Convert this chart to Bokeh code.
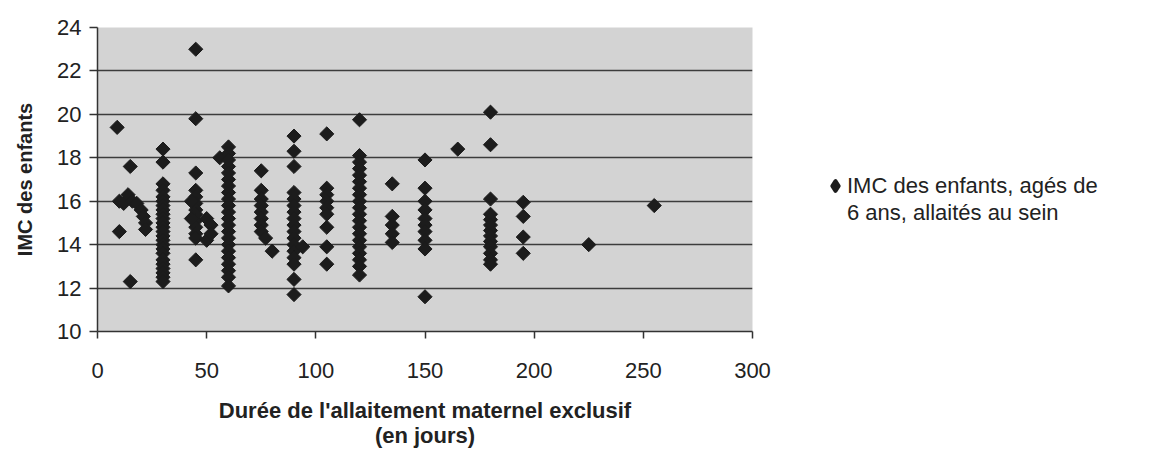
import numpy as np
from bokeh.plotting import figure
from bokeh.models import (Range1d, FixedTicker, Legend, LegendItem, ColumnDataSource,
                          CDSView, IndexFilter)
from bokeh.embed import file_html
from bokeh.resources import INLINE

# ---- data ----
duree = (
    [9, 15, 10, 12, 14, 16, 18, 20, 21, 22, 22, 10, 15]
    + [30] * 24
    + [45] * 13 + [43, 43, 50, 50, 52, 52]
    + [56] + [60] * 22
    + [75] * 8 + [77, 80]
    + [90] * 17 + [94]
    + [105] * 9
    + [120] * 20
    + [135] * 5
    + [150] * 10
    + [165]
    + [180] * 13
    + [195] * 4
    + [225, 255]
)
imc = (
    [19.4, 17.6, 16.0, 15.9, 16.3, 16.0, 15.9, 15.6, 15.3, 15.0, 14.7, 14.6, 12.3]
    + [18.4, 17.8, 16.8, 16.5, 16.2, 16.0, 15.8, 15.6, 15.4, 15.2, 15.0, 14.8,
       14.6, 14.4, 14.2, 14.0, 13.8, 13.6, 13.3, 13.1, 12.9, 12.7, 12.5, 12.3]
    + [23.0, 19.8, 17.3, 16.5, 16.2, 15.9, 15.6, 15.4, 15.1, 14.8, 14.5, 14.3, 13.3,
       16.0, 15.2, 15.2, 14.2, 14.9, 14.5]
    + [18.0]
    + [18.5, 18.2, 17.9, 17.6, 17.3, 17.0, 16.7, 16.4, 16.1, 15.8, 15.5, 15.2,
       14.9, 14.6, 14.3, 14.0, 13.7, 13.4, 13.1, 12.8, 12.5, 12.1]
    + [17.4, 16.5, 16.1, 15.8, 15.5, 15.2, 14.9, 14.6, 14.3, 13.7]
    + [19.0, 18.3, 17.6, 16.4, 16.1, 15.8, 15.5, 15.2, 14.9, 14.6, 14.3, 14.0,
       13.7, 13.4, 13.1, 12.4, 11.7, 13.9]
    + [19.1, 16.6, 16.3, 16.0, 15.7, 15.4, 14.8, 13.9, 13.1]
    + [19.75, 18.1, 17.8, 17.5, 17.2, 16.9, 16.6, 16.3, 16.0, 15.7, 15.4, 15.1,
       14.8, 14.5, 14.2, 13.9, 13.6, 13.3, 13.0, 12.6]
    + [16.8, 15.3, 14.9, 14.5, 14.1]
    + [17.9, 16.6, 16.0, 15.6, 15.2, 14.9, 14.6, 14.2, 13.8, 11.6]
    + [18.4]
    + [20.1, 18.6, 16.1, 15.4, 15.15, 14.9, 14.65, 14.4, 14.15, 13.9, 13.6, 13.3, 13.1]
    + [15.95, 15.3, 14.35, 13.6]
    + [14.0, 15.8]
)

x_ticks = [0, 50, 100, 150, 200, 250, 300]
y_ticks = [10, 12, 14, 16, 18, 20, 22, 24]
grid_ticks = [12, 14, 16, 18, 20, 22]

x_title = "Durée de l'allaitement maternel exclusif\n(en jours)"
y_title = "IMC des enfants"
legend_lines = ["IMC des enfants, agés de", "6 ans, allaités au sein"]

FONT = "Liberation Sans"
TXT = "#222222"
MARK = "#1c1c1c"

src = ColumnDataSource(data=dict(duree=duree, imc=imc))

p = figure(frame_width=655, frame_height=304, x_range=Range1d(0, 300), y_range=Range1d(10, 24),
           output_backend="svg", toolbar_location=None,
           min_border_left=97, min_border_right=0, min_border_top=27, min_border_bottom=120)
p.background_fill_color = "#d3d3d3"
p.border_fill_color = "white"
p.outline_line_color = None

r = p.scatter(x="duree", y="imc", source=src, marker="square", angle=np.pi / 4, size=10,
              fill_color=MARK, line_color=MARK, line_width=1)

# legend key: one data point (inside a dense column) re-drawn as a tiny diamond,
# invisible on the plot, giving a diamond swatch in the legend
key_idx = [i for i, (d, v) in enumerate(zip(duree, imc)) if d == 60 and v == 15.5][:1]
key1 = p.scatter(x="duree", y="imc", source=src, view=CDSView(filter=IndexFilter(indices=key_idx)),
                 marker="diamond", size=1, fill_color=MARK, line_color=MARK, line_width=4,
                 line_join="round")
key2 = p.scatter(x="duree", y="imc", source=src, view=CDSView(filter=IndexFilter(indices=[])),
                 marker="diamond", fill_alpha=0, line_alpha=0)

p.xaxis.ticker = FixedTicker(ticks=x_ticks)
p.yaxis.ticker = FixedTicker(ticks=y_ticks)
p.xgrid.visible = False
p.ygrid.ticker = FixedTicker(ticks=grid_ticks)
p.ygrid.grid_line_color = "#3c3c3c"
p.ygrid.grid_line_width = 1.5

for ax in (p.xaxis, p.yaxis):
    ax.axis_line_color = "#333333"
    ax.axis_line_width = 1.5
    ax.major_tick_line_color = "#333333"
    ax.major_tick_line_width = 1.5
    ax.major_tick_in = 0
    ax.minor_tick_line_color = None
    ax.major_label_text_font = FONT
    ax.major_label_text_font_size = "22px"
    ax.major_label_text_color = TXT
    ax.axis_label_text_font = FONT
    ax.axis_label_text_font_style = "bold"
    ax.axis_label_text_color = TXT

p.xaxis.major_tick_out = 7
p.yaxis.major_tick_out = 8
p.xaxis.major_label_standoff = 24
p.yaxis.major_label_standoff = 8
p.xaxis.axis_label = x_title
p.yaxis.axis_label = y_title
p.xaxis.axis_label_text_font_size = "22px"
p.xaxis.axis_label_text_line_height = 1.0
p.yaxis.axis_label_text_font_size = "20px"
p.xaxis.axis_label_standoff = 17
p.yaxis.axis_label_standoff = 18

legend = Legend(items=[LegendItem(label=legend_lines[0], renderers=[key1]),
                       LegendItem(label=legend_lines[1], renderers=[key2])],
                location=(71, 105), orientation="vertical", spacing=0, padding=0, margin=0,
                glyph_width=24, glyph_height=27, label_height=27, label_standoff=0,
                label_text_font=FONT, label_text_font_size="22px", label_text_color=TXT,
                background_fill_alpha=0, border_line_alpha=0)
p.add_layout(legend, "right")

open("out.html", "w").write(file_html(p, INLINE))
